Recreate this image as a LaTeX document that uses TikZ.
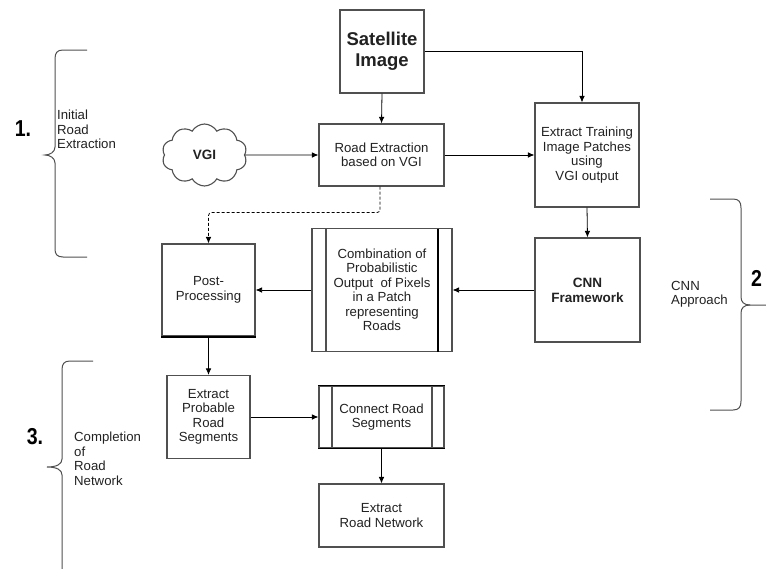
\documentclass[tikz,border=0pt]{standalone}
\usepackage{fontspec}
\setmainfont{Liberation Sans}
\usetikzlibrary{shapes.symbols,arrows.meta}
\definecolor{edge}{HTML}{505050}
\definecolor{txt}{HTML}{222222}
\tikzset{
  box/.style={draw=edge, line width=1.1pt, rectangle, align=center, text=txt,
    font=\fontsize{13.2}{14.5}\selectfont, inner sep=1pt},
  boldbox/.style={box, font=\bfseries\fontsize{13.5}{15}\selectfont},
  arr/.style={draw=black, line width=0.8pt, -{Latex[length=6.5pt,width=5.5pt]}},
  sidetxt/.style={align=left, anchor=north west, text=txt, inner sep=0pt,
    font=\fontsize{13.2}{14.5}\selectfont},
  bignum/.style={font=\bfseries\fontsize{23}{23}\selectfont, inner sep=0pt, text=black, xscale=0.85},
  brace/.style={draw=edge, line width=1pt}
}
\begin{document}
\begin{tikzpicture}[x=1pt,y=-1pt]
\useasboundingbox (0,0) rectangle (766,568);
\fill[white] (0,0) rectangle (766,568);

% boxes
\node[box, minimum width=84, minimum height=83, font=\bfseries\fontsize{18.5}{21.5}\selectfont] (sat) at (382,51.5) {Satellite\\Image};
\node[box, minimum width=125, minimum height=62] (road) at (381.5,155) {Road Extraction\\based on VGI};
\node[box, minimum width=104, minimum height=104] (ext) at (587,155) {Extract Training\\Image Patches\\using\\VGI output};
\node[draw=edge, line width=1.1pt, cloud, cloud puffs=10, cloud puff arc=120, aspect=1.4,
  minimum width=85, minimum height=62, inner sep=0pt, text=txt,
  font=\bfseries\fontsize{13.5}{15}\selectfont] (vgi) at (204.5,155) {VGI};
\node[box, minimum width=93, minimum height=92] (post) at (208.5,290) {Post-\\Processing};
\draw[line width=2pt, black] (post.south west) -- (post.south east);
\node[box, minimum width=140, minimum height=123] (comb) at (382,290) {Combination of\\Probabilistic\\Output\ \ of Pixels\\in a Patch\\representing\\Roads};
\draw[edge, line width=1.1pt] (326,228.5) -- (326,351.5);
\draw[black, line width=1.6pt] (438,228.5) -- (438,351.5);
\node[boldbox, minimum width=105, minimum height=104] (cnn) at (587.5,290) {CNN\\Framework};
\node[box, minimum width=83, minimum height=83] (prob) at (208.5,417) {Extract\\Probable\\Road\\Segments};
\node[box, minimum width=125, minimum height=62] (conn) at (381.5,417) {Connect Road\\Segments};
\draw[black, line width=1.8pt] (conn.north west) -- (conn.north east);
\draw[black, line width=1.8pt] (conn.south west) -- (conn.south east);
\draw[edge, line width=1.1pt] (332,386) -- (332,448);
\draw[edge, line width=1.1pt] (432,386) -- (432,448);
\node[box, minimum width=125, minimum height=63] (net) at (381.5,515.5) {Extract\\Road Network};

% connectors
\draw[arr] (sat.east) -| ([xshift=-5pt]ext.north);
\draw[arr] (sat.south) -- (road.north);
\draw[arr] (vgi.east) -- (road.west);
\draw[arr] (road.east) -- (ext.west);
\draw[arr] (ext.south) -- (cnn.north);
\draw[arr] (cnn.west) -- (comb.east);
\draw[arr] (comb.west) -- (post.east);
\draw[arr, densely dashed, rounded corners=3pt] ([xshift=-1.5pt]road.south) -- ++(0,26) -| (post.north);
\draw[arr] (post.south) -- (prob.north);
\draw[arr] (prob.east) -- (conn.west);
\draw[arr] (conn.south) -- (net.north);

% braces
\draw[brace] (87,50) -- (63,50) .. controls (57,50) and (55,53) .. (55,59) -- (55,147)
  .. controls (55,152) and (50,155) .. (45,155) .. controls (50,155) and (55,158) .. (55,163)
  -- (55,249) .. controls (55,254) and (57,257) .. (63,257) -- (87,257);
\draw[brace] (710,199) -- (733,199) .. controls (739,199) and (741,202) .. (741,208) -- (741,297)
  .. controls (741,302) and (744,305) .. (750,305) -- (766,305);
\draw[brace] (741,313) .. controls (741,308) and (744,305) .. (750,305);
\draw[brace] (741,313) -- (741,401) .. controls (741,407) and (739,410) .. (733,410) -- (710,410);
\draw[brace] (93,361) -- (70,361) .. controls (64,361) and (62,364) .. (62,370) -- (62,459)
  .. controls (62,464) and (57,467) .. (47,467) .. controls (57,467) and (62,470) .. (62,475)
  -- (62,570);

% side labels
\node[bignum] (n1) at (23,129) {1.};
\node[sidetxt] (t1) at (57,110) {Initial\\Road\\Extraction};
\node[bignum, anchor=west] (n2) at (751,278) {2};
\node[sidetxt] (t2) at (671,281) {CNN\\Approach};
\node[bignum] (n3) at (35,437) {3.};
\node[sidetxt] (t3) at (74,432) {Completion\\of\\Road\\Network};
\end{tikzpicture}
\end{document}
